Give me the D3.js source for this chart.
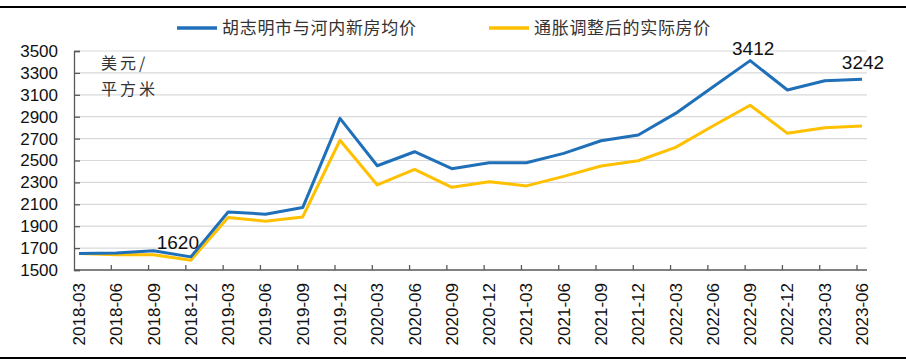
<!DOCTYPE html>
<html>
<head>
<meta charset="utf-8">
<script src="https://cdn.jsdelivr.net/npm/d3@7"></script>
<style>
  body { margin: 0; background: #fff; }
  svg { display: block; }
  text { font-family: "Liberation Sans", Arial, sans-serif; }
  .cjk { font-family: "Noto Sans CJK SC", sans-serif; }
</style>
</head>
<body>
<svg id="mainChart" width="906" height="363"></svg>
<script>
const quarters = ["2018-03", "2018-06", "2018-09", "2018-12", "2019-03", "2019-06", "2019-09", "2019-12",
  "2020-03", "2020-06", "2020-09", "2020-12", "2021-03", "2021-06", "2021-09", "2021-12",
  "2022-03", "2022-06", "2022-09", "2022-12", "2023-03", "2023-06"];
const nominalPrice = [1650, 1655, 1675, 1620, 2030, 2010, 2070, 2885, 2452, 2580, 2425, 2480,
  2480, 2565, 2680, 2733, 2930, 3172, 3412, 3144, 3229, 3242];
const realPrice = [1650, 1640, 1640, 1590, 1980, 1945, 1985, 2685, 2277, 2419, 2255, 2306,
  2268, 2355, 2450, 2498, 2620, 2815, 3005, 2748, 2800, 2815];
const yTicks = [1500, 1700, 1900, 2100, 2300, 2500, 2700, 2900, 3100, 3300, 3500];
const seriesNames = ["胡志明市与河内新房均价", "通胀调整后的实际房价"];
const unitLines = ["美元/", "平方米"];
const labelIdx = [3, 18, 21];

function drawChart() {
  const svg = d3.select("svg#mainChart");
  const attr = { left: 74, right: 867, top: 51, bottom: 270 };
  const blue = "#1f70b8", yellow = "#ffc000";

  const x = d3.scalePoint().domain(quarters).range([79, 862]);
  const y = d3.scaleLinear().domain([1500, 3500]).range([attr.bottom, attr.top]);

  // frame lines top and bottom
  svg.append("line").attr("x1", 0).attr("x2", 906).attr("y1", 7).attr("y2", 7)
    .attr("stroke", "#000").attr("stroke-width", 2);
  svg.append("line").attr("x1", 0).attr("x2", 906).attr("y1", 358).attr("y2", 358)
    .attr("stroke", "#000").attr("stroke-width", 2);

  // grid
  svg.append("g").selectAll("line")
    .data(yTicks.slice(1))
    .enter().append("line")
    .attr("x1", attr.left).attr("x2", attr.right)
    .attr("y1", d => y(d)).attr("y2", d => y(d))
    .attr("stroke", "#d9d9d9").attr("stroke-width", 1.2);

  // y axis
  const axisY = d3.axisLeft(y).tickValues(yTicks).tickFormat(d3.format("d"))
    .tickSize(-6).tickPadding(16);
  const gy = svg.append("g")
    .attr("transform", `translate(${attr.left},0)`)
    .call(axisY);
  gy.select(".domain").attr("stroke", "#595959").attr("stroke-width", 1.3);
  gy.selectAll(".tick line").attr("stroke", "#595959").attr("stroke-width", 1.3);
  gy.selectAll("text")
    .style("font-size", "17px")
    .style("font-family", "'Liberation Sans', Arial, sans-serif")
    .attr("fill", "#111");

  // x axis
  svg.append("line")
    .attr("x1", attr.left).attr("x2", attr.right)
    .attr("y1", attr.bottom).attr("y2", attr.bottom)
    .attr("stroke", "#595959").attr("stroke-width", 1.3);
  svg.append("g").selectAll("line")
    .data(quarters.slice(1))
    .enter().append("line")
    .attr("x1", d => x(d) - 5).attr("x2", d => x(d) - 5)
    .attr("y1", attr.bottom).attr("y2", attr.bottom - 5)
    .attr("stroke", "#595959").attr("stroke-width", 1.3);
  svg.append("g").selectAll("text")
    .data(quarters)
    .enter().append("text")
    .attr("transform", d => `translate(${x(d)}, 283) rotate(-90)`)
    .attr("text-anchor", "end")
    .attr("dy", "0.35em")
    .style("font-size", "17px")
    .attr("fill", "#111")
    .text(d => d);

  // unit
  svg.append("g").selectAll("text")
    .data(unitLines)
    .enter().append("text")
    .attr("class", "cjk")
    .attr("x", 101)
    .attr("y", (d, i) => 69 + i * 26)
    .style("font-size", "16px")
    .style("letter-spacing", "3px")
    .attr("fill", "#333")
    .text(d => d);

  // lines
  const line = d3.line().x((d, i) => x(quarters[i])).y(d => y(d));
  svg.append("path").datum(realPrice)
    .attr("fill", "none").attr("stroke", yellow).attr("stroke-width", 3)
    .attr("stroke-linejoin", "round")
    .attr("d", line);
  svg.append("path").datum(nominalPrice)
    .attr("fill", "none").attr("stroke", blue).attr("stroke-width", 3)
    .attr("stroke-linejoin", "round")
    .attr("d", line);

  // value labels
  const offsets = { 3: [-13, -8], 18: [3, -6], 21: [1, -10] };
  svg.append("g").selectAll("text")
    .data(labelIdx)
    .enter().append("text")
    .attr("x", i => x(quarters[i]) + offsets[i][0])
    .attr("y", i => y(nominalPrice[i]) + offsets[i][1])
    .attr("text-anchor", "middle")
    .style("font-size", "19px")
    .attr("fill", "#111")
    .text(i => nominalPrice[i]);

  // legend
  const legend = [
    { name: seriesNames[0], color: blue, x: 177 },
    { name: seriesNames[1], color: yellow, x: 489 }
  ];
  legend.forEach(item => {
    svg.append("line")
      .attr("x1", item.x).attr("x2", item.x + 40)
      .attr("y1", 28).attr("y2", 28)
      .attr("stroke", item.color).attr("stroke-width", 3.5);
    svg.append("text")
      .attr("class", "cjk")
      .attr("x", item.x + 45)
      .attr("y", 28)
      .attr("dy", "0.36em")
      .style("font-size", "17px")
      .style("letter-spacing", "0.7px")
      .attr("fill", "#333")
      .text(item.name);
  });
}

drawChart();
</script>
</body>
</html>
